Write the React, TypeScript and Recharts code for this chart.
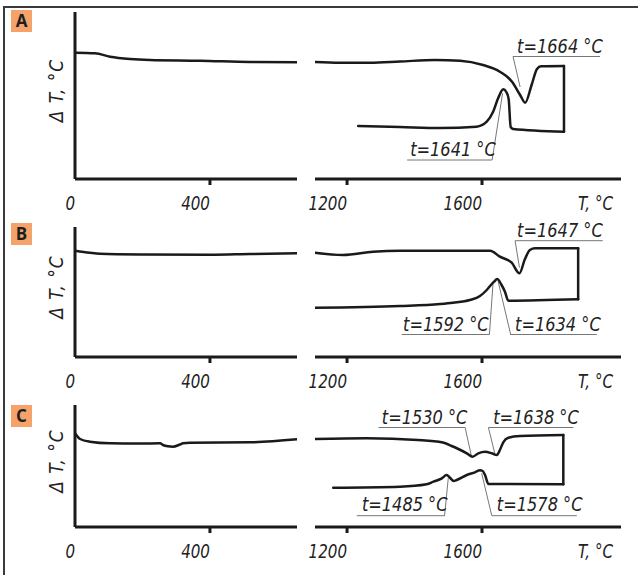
import React from 'react';
import { LineChart, Line, XAxis, YAxis, ReferenceLine, ReferenceDot } from 'recharts';

type Pt = { t: number; v: number };
type Note = { text: string; tx: number; tv: number; u: [number, number, number]; l: [number, number, number, number] };

// ---- axis / category data ----
const panelNames = ['A', 'B', 'C'];
const leftTicks = [0, 400];
const rightTicks = [1200, 1600];
const leftRange: [number, number] = [0, 658];
const rightRange: [number, number] = [1105, 2012];
const yTitle = 'Δ T, °C';
const xTitle = 'T, °C';

// ---- panel A ----
const aLeft: Pt[] = [
  { t: 0, v: 126.3 }, { t: 59, v: 125.7 }, { t: 104, v: 122.3 }, { t: 163, v: 120 },
  { t: 222, v: 119 }, { t: 370, v: 118.3 }, { t: 519, v: 117 }, { t: 658, v: 116.7 },
];
const aUpper: Pt[] = [
  { t: 1105, v: 117 }, { t: 1179, v: 116.3 }, { t: 1268, v: 116.3 }, { t: 1357, v: 117.5 },
  { t: 1461, v: 119 }, { t: 1535, v: 118.3 }, { t: 1603, v: 114 }, { t: 1653, v: 107.3 },
  { t: 1689, v: 97.3 }, { t: 1713, v: 84 }, { t: 1728, v: 76.3 }, { t: 1747, v: 94 },
  { t: 1763, v: 110 }, { t: 1775, v: 112.7 }, { t: 1843, v: 113 },
];
const aLink: Pt[] = [{ t: 1843, v: 113 }, { t: 1843, v: 47.3 }];
const aLower: Pt[] = [
  { t: 1233, v: 53 }, { t: 1357, v: 52 }, { t: 1476, v: 51 }, { t: 1584, v: 52.3 },
  { t: 1614, v: 57.3 }, { t: 1633, v: 67.3 }, { t: 1648, v: 81 }, { t: 1663, v: 89.7 },
  { t: 1672, v: 87 }, { t: 1679, v: 80 }, { t: 1685, v: 52 }, { t: 1692, v: 50 }, { t: 1843, v: 47.3 },
];
const aNotes: Note[] = [
  { text: 't=1664 °C', tx: 1704, tv: 126.5, u: [1692, 1950, 122.5], l: [1692, 122.5, 1713, 92] },
  { text: 't=1641 °C', tx: 1387, tv: 23, u: [1378, 1630, 19], l: [1630, 19, 1661, 85.7] },
];

// ---- panel B ----
const bLeft: Pt[] = [
  { t: 0, v: 106.3 }, { t: 44, v: 104.3 }, { t: 74, v: 103.3 }, { t: 200, v: 102.6 },
  { t: 400, v: 102.3 }, { t: 519, v: 103 }, { t: 658, v: 103.7 },
];
const bUpper: Pt[] = [
  { t: 1105, v: 104.3 }, { t: 1188, v: 102 }, { t: 1277, v: 105.3 }, { t: 1357, v: 106.3 },
  { t: 1476, v: 106.3 }, { t: 1624, v: 106.3 }, { t: 1653, v: 100.3 }, { t: 1688, v: 94.3 },
  { t: 1711, v: 83.7 }, { t: 1727, v: 97.7 }, { t: 1742, v: 107 }, { t: 1757, v: 108.7 },
  { t: 1885, v: 108.7 },
];
const bLink: Pt[] = [{ t: 1885, v: 108.7 }, { t: 1885, v: 57.7 }];
const bLower: Pt[] = [
  { t: 1105, v: 49.3 }, { t: 1357, v: 51 }, { t: 1476, v: 53 }, { t: 1514, v: 54.3 },
  { t: 1564, v: 57 }, { t: 1594, v: 61 }, { t: 1614, v: 67 }, { t: 1629, v: 73 },
  { t: 1636, v: 75.3 }, { t: 1645, v: 78 }, { t: 1658, v: 72 }, { t: 1668, v: 65.3 },
  { t: 1678, v: 56.3 }, { t: 1885, v: 57.7 },
];
const bNotes: Note[] = [
  { text: 't=1647 °C', tx: 1704, tv: 120.3, u: [1698, 1958, 116.3], l: [1698, 116.3, 1711, 89.5] },
  { text: 't=1592 °C', tx: 1366, tv: 26.5, u: [1362, 1622, 22.5], l: [1622, 22.5, 1633, 75.3] },
  { text: 't=1634 °C', tx: 1698, tv: 26.5, u: [1683, 1940, 22.5], l: [1685, 22.5, 1648, 75.3] },
];

// ---- panel C ----
const cLeft: Pt[] = [
  { t: 0, v: 93.7 }, { t: 15, v: 88 }, { t: 44, v: 85.3 }, { t: 104, v: 83.7 },
  { t: 193, v: 83.5 }, { t: 252, v: 83.7 }, { t: 261, v: 82 }, { t: 276, v: 80.7 },
  { t: 290, v: 80.3 }, { t: 311, v: 82.5 }, { t: 320, v: 83.7 }, { t: 341, v: 84.3 },
  { t: 519, v: 84.7 }, { t: 658, v: 87.7 },
];
const cUpper: Pt[] = [
  { t: 1105, v: 88 }, { t: 1258, v: 88.7 }, { t: 1410, v: 87 }, { t: 1484, v: 84.5 },
  { t: 1510, v: 81 }, { t: 1530, v: 78 }, { t: 1555, v: 73.7 }, { t: 1572, v: 70.3 },
  { t: 1589, v: 73.7 }, { t: 1609, v: 75.3 }, { t: 1629, v: 73.7 }, { t: 1644, v: 72 },
  { t: 1653, v: 77 }, { t: 1663, v: 84.7 }, { t: 1678, v: 89.3 }, { t: 1713, v: 91 },
  { t: 1841, v: 92 },
];
const cLink: Pt[] = [{ t: 1841, v: 92 }, { t: 1841, v: 42.7 }];
const cLower: Pt[] = [
  { t: 1159, v: 39.3 }, { t: 1357, v: 40.3 }, { t: 1436, v: 42.7 }, { t: 1456, v: 45.3 },
  { t: 1481, v: 48.7 }, { t: 1495, v: 52 }, { t: 1505, v: 49.3 }, { t: 1516, v: 46 },
  { t: 1525, v: 47 }, { t: 1555, v: 52 }, { t: 1579, v: 54.7 }, { t: 1594, v: 56.7 },
  { t: 1602, v: 56 }, { t: 1609, v: 52 }, { t: 1619, v: 43 }, { t: 1841, v: 42.7 },
];
const cNotes: Note[] = [
  { text: 't=1530 °C', tx: 1303, tv: 103.5, u: [1293, 1550, 99.5], l: [1550, 99.5, 1569, 70.3] },
  { text: 't=1638 °C', tx: 1633, tv: 103.5, u: [1619, 1871, 99.5], l: [1619, 99.5, 1639, 72] },
  { text: 't=1485 °C', tx: 1244, tv: 16, u: [1229, 1490, 11.3], l: [1489, 11.3, 1500, 48.7] },
  { text: 't=1578 °C', tx: 1644, tv: 16, u: [1629, 1881, 11.3], l: [1629, 11.3, 1599, 53.7] },
];

// ---- styling / layout ----
const FONT = "'DejaVu Sans Condensed', 'DejaVu Sans', sans-serif";
const INK = '#1a1a1a';
const TXT = '#222';
const LEAD = '#777';
const M = 25; // top margin of each chart
const XH = 45; // x-axis band height

const layout = [
  { top: 12, axis: 179, badge: 10 },
  { top: 227, axis: 357, badge: 223 },
  { top: 405, axis: 527, badge: 405 },
];

const series = [
  { left: aLeft, upper: aUpper, link: aLink, lower: aLower, notes: aNotes },
  { left: bLeft, upper: bUpper, link: bLink, lower: bLower, notes: bNotes },
  { left: cLeft, upper: cUpper, link: cLink, lower: cLower, notes: cNotes },
];

function NText({ x, y, anchor = 'start', sx = 0.84, size = 20, rotate = 0, baseline, spacing, children }: any) {
  return (
    <text
      x={0}
      y={0}
      transform={`translate(${x} ${y}) rotate(${rotate}) scale(${sx} 1)`}
      textAnchor={anchor}
      dominantBaseline={baseline}
      letterSpacing={spacing}
      fontFamily={FONT}
      fontStyle="italic"
      fontSize={size}
      fill={TXT}
    >
      {children}
    </text>
  );
}

const renderTick = (props: any) => {
  const { x, y, payload } = props;
  return (
    <g>
      {payload.value !== 0 && (
        <line x1={x} x2={x} y1={y} y2={y + 6} stroke={INK} strokeWidth={3} />
      )}
      <NText x={x} y={y + 31} anchor="end">{payload.value}</NText>
    </g>
  );
};

const makeYTitle = (plotH: number) => (props: any) => {
  const vb = props.viewBox || { x: 0, y: M, width: 75, height: plotH };
  const cx = vb.x + vb.width - 19;
  const cy = vb.y + vb.height / 2 - 5;
  return (
    <NText x={cx} y={cy} rotate={-90} anchor="middle" baseline="central" sx={0.95} spacing={1}>
      {yTitle}
    </NText>
  );
};

const renderXTitle = (props: any) => {
  const vb = props.viewBox || { x: 30, y: 0, width: 306, height: XH };
  return (
    <NText x={vb.x + vb.width - 8} y={vb.y + 31} anchor="end">{xTitle}</NText>
  );
};

const makeNoteText = (text: string) => (props: any) => {
  const vb = props.viewBox || { x: 0, y: 0, width: 0, height: 0 };
  return (
    <NText x={vb.x + vb.width / 2} y={vb.y + vb.height / 2} sx={0.9}>{text}</NText>
  );
};

const lineProps = {
  dataKey: 'v',
  stroke: INK,
  strokeWidth: 2.5,
  dot: false,
  activeDot: false,
  isAnimationActive: false,
  strokeLinecap: 'round' as const,
  strokeLinejoin: 'round' as const,
};

function Panel({ idx }: { idx: number }) {
  const lay = layout[idx];
  const s = series[idx];
  const plotH = lay.axis - lay.top;
  const chartH = M + plotH + XH;
  const yDomain: [number, number] = [0, plotH];
  const axisLine = { stroke: INK, strokeWidth: 3 };
  return (
    <>
      <div
        style={{
          position: 'absolute',
          left: 11,
          top: lay.badge,
          width: 21,
          height: 22,
          background: '#F5A36A',
          color: '#1e1e1e',
          fontFamily: "'Open Sans', 'Liberation Sans', sans-serif",
          fontWeight: 700,
          fontSize: 17,
          lineHeight: '22px',
          textAlign: 'center',
        }}
      >
        {panelNames[idx]}
      </div>
      <div style={{ position: 'absolute', left: 0, top: lay.top - M }}>
        <LineChart width={305} height={chartH} margin={{ top: M, right: 8, bottom: 0, left: 0 }}>
          <XAxis
            dataKey="t"
            type="number"
            domain={leftRange}
            ticks={leftTicks}
            interval={0}
            allowDataOverflow
            height={XH}
            tickSize={0}
            tickMargin={0}
            tickLine={false}
            axisLine={axisLine}
            tick={renderTick}
          />
          <YAxis
            type="number"
            domain={yDomain}
            allowDataOverflow
            width={75}
            tick={false}
            tickLine={false}
            axisLine={axisLine}
            label={{ content: makeYTitle(plotH) }}
          />
          <Line {...lineProps} data={s.left} type="monotone" />
        </LineChart>
      </div>
      <div style={{ position: 'absolute', left: 285, top: lay.top - M }}>
        <LineChart width={353} height={chartH} margin={{ top: M, right: 17, bottom: 0, left: 30 }}>
          <XAxis
            dataKey="t"
            type="number"
            domain={rightRange}
            ticks={rightTicks}
            interval={0}
            allowDataOverflow
            height={XH}
            tickSize={0}
            tickMargin={0}
            tickLine={false}
            axisLine={axisLine}
            tick={renderTick}
            label={{ content: renderXTitle }}
          />
          <YAxis type="number" domain={yDomain} allowDataOverflow hide />
          {s.notes.map((n, i) => (
            <ReferenceLine
              key={`u${i}`}
              segment={[{ x: n.u[0], y: n.u[2] }, { x: n.u[1], y: n.u[2] }]}
              stroke={LEAD}
              strokeWidth={1}
              ifOverflow="visible"
            />
          ))}
          {s.notes.map((n, i) => (
            <ReferenceLine
              key={`l${i}`}
              segment={[{ x: n.l[0], y: n.l[1] }, { x: n.l[2], y: n.l[3] }]}
              stroke={LEAD}
              strokeWidth={1}
              ifOverflow="visible"
            />
          ))}
          {s.notes.map((n, i) => (
            <ReferenceDot
              key={`t${i}`}
              x={n.tx}
              y={n.tv}
              r={0.01}
              fill="none"
              stroke="none"
              ifOverflow="visible"
              label={{ content: makeNoteText(n.text) }}
            />
          ))}
          <Line {...lineProps} data={s.upper} type="monotone" />
          <Line {...lineProps} data={s.link} type="linear" />
          <Line {...lineProps} data={s.lower} type="monotone" />
        </LineChart>
      </div>
    </>
  );
}

export default function App() {
  return (
    <div style={{ position: 'absolute', left: 0, top: 0, width: 638, height: 575, background: '#fff', overflow: 'hidden' }}>
      <div
        style={{
          position: 'absolute',
          left: 3,
          top: 6,
          width: 640,
          height: 580,
          borderTop: '2px solid #3a3a3a',
          borderLeft: '2px solid #3a3a3a',
        }}
      />
      {layout.map((_, i) => (
        <Panel key={i} idx={i} />
      ))}
    </div>
  );
}
